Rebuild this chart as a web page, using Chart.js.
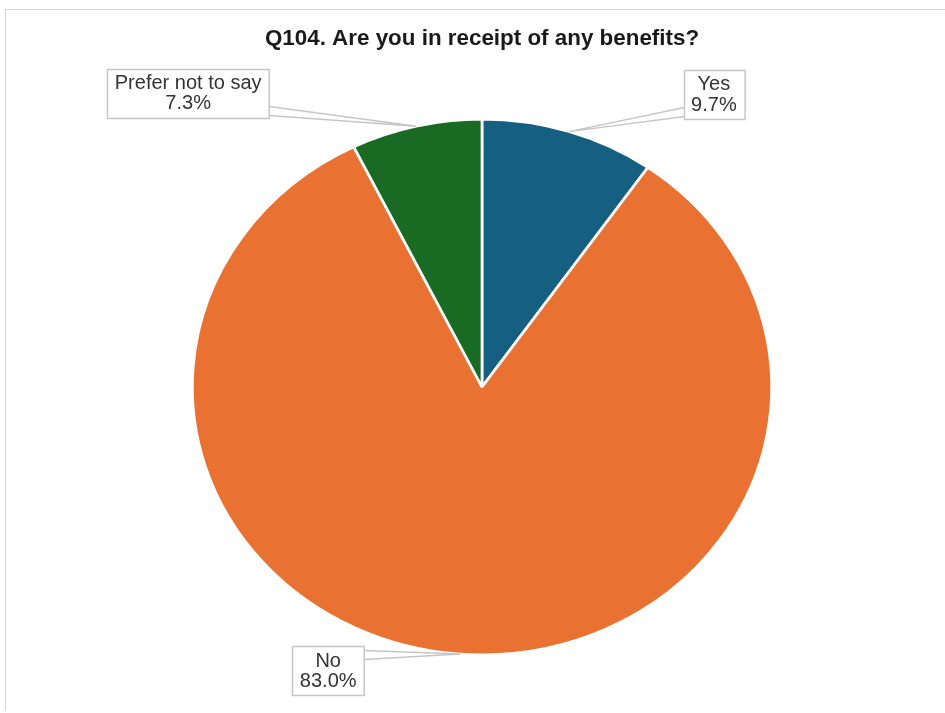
<!DOCTYPE html>
<html>
<head>
<meta charset="utf-8">
<title>Q104 benefits</title>
<script src="https://cdn.jsdelivr.net/npm/chart.js@4/dist/chart.umd.min.js"></script>
<style>
  html, body { margin: 0; padding: 0; background: #fff; }
  #wrap { position: relative; width: 945px; height: 713px; overflow: hidden; }
  #frame { position: absolute; left: 5px; top: 9px; width: 960px; height: 701px;
           border-top: 1px solid #d4d4d4; border-left: 1px solid #d4d4d4; box-sizing: border-box; }
  canvas { position: absolute; left: 0; top: 0; }
</style>
</head>
<body>
<div id="wrap">
  <div id="frame"></div>
  <canvas id="pieChart" width="945" height="713"></canvas>
</div>
<script>
// answers to Q104 (percent of respondents)
const categories = ['Yes', 'No', 'Prefer not to say'];
const shares     = [9.7, 83.0, 7.3];
const colours    = ['#156082', '#E97132', '#196B24'];

// the original pie is stretched a little sideways
const STRETCH_X = 291 / 269;

// where each callout box sits relative to its slice edge point
const calloutOffset = [[145, -37], [-132, 17], [-228, -33]];
const calloutSide   = ['left', 'right', 'right'];

const FONT = 'Arial, "Liberation Sans", sans-serif';

const stretchPlugin = {
  id: 'stretch',
  beforeDatasetsDraw(chart) {
    const arc = chart.getDatasetMeta(0).data[0];
    const ctx = chart.ctx;
    ctx.save();
    ctx.translate(arc.x, arc.y);
    ctx.scale(STRETCH_X, 1);
    ctx.translate(-arc.x, -arc.y);
  },
  afterDatasetsDraw(chart) {
    chart.ctx.restore();
  }
};

const calloutPlugin = {
  id: 'callouts',
  afterDraw(chart) {
    const ctx = chart.ctx;
    const arcs = chart.getDatasetMeta(0).data;
    ctx.save();
    ctx.font = '20px ' + FONT;
    ctx.textAlign = 'center';
    ctx.textBaseline = 'middle';
    arcs.forEach((arc, i) => {
      const mid = (arc.startAngle + arc.endAngle) / 2;
      const ax = arc.x + Math.cos(mid) * arc.outerRadius * STRETCH_X;
      const ay = arc.y + Math.sin(mid) * arc.outerRadius;
      const bx = ax + calloutOffset[i][0];
      const by = ay + calloutOffset[i][1];
      const l1 = categories[i];
      const l2 = shares[i].toFixed(1) + '%';
      const w = Math.max(ctx.measureText(l1).width, ctx.measureText(l2).width) + 15;
      const h = 49;
      const x0 = Math.round(bx - w / 2) + 0.5, y0 = Math.round(by - h / 2) + 0.5;

      // callout wedge
      const ex = calloutSide[i] === 'left' ? x0 : x0 + w;
      const ya = Math.min(Math.max(ay - 4, y0 + 4), y0 + h - 12);
      ctx.strokeStyle = '#c6c6c6';
      ctx.lineWidth = 1.3;
      ctx.beginPath();
      ctx.moveTo(ex, ya);
      ctx.lineTo(ax, ay);
      ctx.lineTo(ex, ya + 9);
      ctx.stroke();

      ctx.fillStyle = '#fff';
      ctx.fillRect(x0, y0, w, h);
      ctx.lineWidth = 1.5;
      ctx.strokeRect(x0, y0, w, h);

      ctx.fillStyle = '#333';
      ctx.fillText(l1, bx, by - 10);
      ctx.fillText(l2, bx, by + 10.5);
    });
    ctx.restore();
  }
};

new Chart(document.getElementById('pieChart'), {
  type: 'pie',
  data: {
    labels: categories,
    datasets: [{
      data: shares,
      backgroundColor: colours,
      borderColor: '#ffffff',
      borderWidth: 2.5
    }]
  },
  options: {
    responsive: false,
    animation: false,
    layout: { padding: { left: 19, right: 0, top: 0, bottom: 57 } },
    plugins: {
      legend: { display: false },
      tooltip: { enabled: false },
      title: {
        display: true,
        text: 'Q104. Are you in receipt of any benefits?',
        color: '#1a1a1a',
        font: { family: FONT, size: 22.4, weight: 'bold', lineHeight: 1.2 },
        padding: { top: 25, bottom: 66.1 }
      }
    }
  },
  plugins: [stretchPlugin, calloutPlugin]
});
</script>
</body>
</html>
